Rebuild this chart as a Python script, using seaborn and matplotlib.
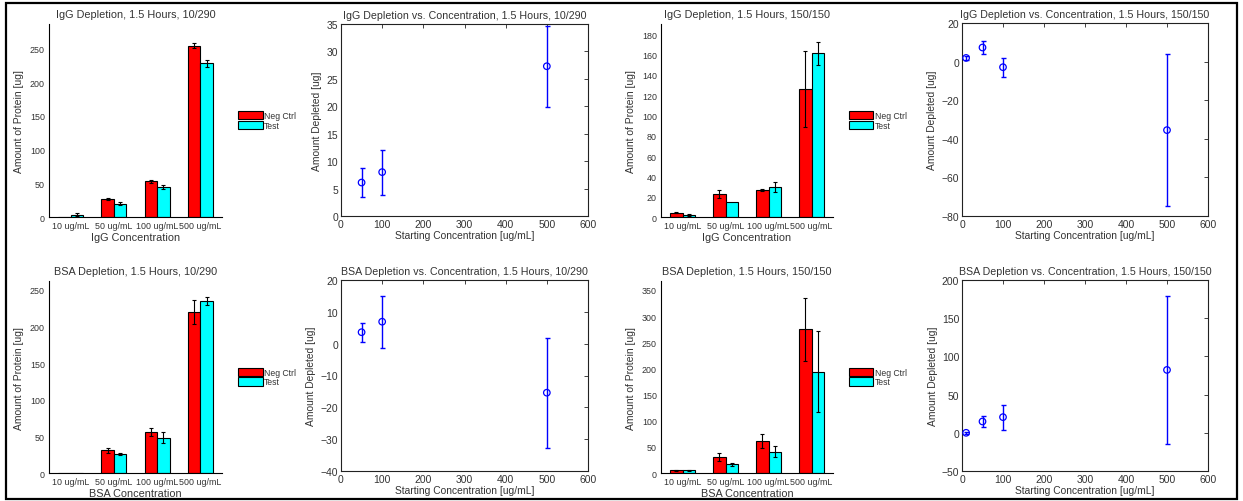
import numpy as np
import pandas as pd
import matplotlib
matplotlib.use("Agg")
import matplotlib.pyplot as plt
from matplotlib.patches import Rectangle
from matplotlib.ticker import MultipleLocator
import seaborn as sns

conc_labels = ["10 ug/mL", "50 ug/mL", "100 ug/mL", "500 ug/mL"]
groups = ["Neg Ctrl", "Test"]

# amount of protein [ug], mean and error per concentration
igg_a_neg = [0, 26.6, 52.8, 254]
igg_a_neg_err = [0, 1, 2, 4]
igg_a_test = [3.5, 19.7, 44.4, 228]
igg_a_test_err = [2, 2.5, 3, 5]

igg_b_neg = [4.3, 22.3, 26.8, 126]
igg_b_neg_err = [0.5, 4, 1, 37.6]
igg_b_test = [2.3, 14.7, 29.5, 161]
igg_b_test_err = [1, 0, 5, 11.3]

bsa_a_neg = [0, 30.9, 55.9, 220]
bsa_a_neg_err = [0, 3.4, 5, 16]
bsa_a_test = [0, 26.4, 48.2, 234.5]
bsa_a_test_err = [0, 1.5, 7.5, 5]

bsa_b_neg = [5, 30, 60.5, 275]
bsa_b_neg_err = [0.5, 7.6, 13.4, 60]
bsa_b_test = [5, 16.5, 40.7, 193.5]
bsa_b_test_err = [0.5, 3.5, 10.5, 77.7]

# amount depleted [ug] vs starting concentration
igg_a_dep_x = [50, 100, 500]
igg_a_dep = [6.1, 8.0, 27.3]
igg_a_dep_err = [2.7, 4.1, 7.4]

igg_b_dep_x = [10, 50, 100, 500]
igg_b_dep = [1.9, 7.3, -2.9, -35.5]
igg_b_dep_err = [1, 3.6, 4.9, 39.3]

bsa_a_dep_x = [50, 100, 500]
bsa_a_dep = [3.6, 6.9, -15.4]
bsa_a_dep_err = [3.0, 8.2, 17.3]

bsa_b_dep_x = [10, 50, 100, 500]
bsa_b_dep = [0, 14.8, 20.5, 82.3]
bsa_b_dep_err = [1, 7.6, 16.5, 96.5]

sns.set_style("white")
plt.rcParams["font.family"] = ["Liberation Sans", "DejaVu Sans"]
text_col = "#333333"

W, H = 1243, 502
fig = plt.figure(figsize=(W / 100, H / 100), dpi=100)


def px_axes(x0, y0, x1, y1):
    return fig.add_axes([x0 / W, 1 - y1 / H, (x1 - x0) / W, (y1 - y0) / H])


def draw_bars(ax, neg, neg_err, test, test_err, title, xlabel, ymax, ystep):
    df = pd.DataFrame({
        "conc": conc_labels * 2,
        "group": [groups[0]] * 4 + [groups[1]] * 4,
        "amount": neg + test,
        "err": neg_err + test_err,
    })
    sns.barplot(data=df, x="conc", y="amount", hue="group", order=conc_labels,
                hue_order=groups, palette=["#ff0000", "#00ffff"], saturation=1,
                width=0.58, edgecolor="black", linewidth=0.8, errorbar=None, ax=ax)
    for cont, g in zip(ax.containers, groups):
        sub = df[df["group"] == g]
        for bar, err in zip(cont, sub["err"]):
            if err <= 0:
                continue
            ax.errorbar(bar.get_x() + bar.get_width() / 2, bar.get_height(), yerr=err,
                        fmt="none", ecolor="black", elinewidth=0.8, capsize=1.5, capthick=0.8)
    ax.set_xlim(-0.5, 3.5)
    ax.set_ylim(0, ymax)
    ax.yaxis.set_major_locator(MultipleLocator(ystep))
    sns.despine(ax=ax)
    for s in ["left", "bottom"]:
        ax.spines[s].set_color("black")
        ax.spines[s].set_linewidth(0.8)
    ax.tick_params(length=0, labelsize=6.4, colors=text_col, pad=3)
    ax.set_title(title, fontsize=7.8, color=text_col, pad=5)
    ax.set_xlabel(xlabel, fontsize=7.8, color=text_col, labelpad=1)
    ax.set_ylabel("Amount of Protein [ug]", fontsize=7.5, color=text_col, labelpad=4)
    ax.legend(loc="center left", bbox_to_anchor=(1.05, 0.5), frameon=False, fontsize=6.2,
              handlelength=2.8, handleheight=1.1, handletextpad=0.2, labelspacing=0.1,
              labelcolor=text_col)


def draw_depletion(ax, x, y, err, title, ylim, ystep):
    ax.errorbar(x, y, yerr=err, fmt="none", ecolor="#0000ff", elinewidth=1,
                capsize=1.8, capthick=1)
    sns.scatterplot(x=x, y=y, ax=ax, marker="o", s=22, facecolor="none",
                    edgecolor="#0000ff", linewidth=0.9, zorder=3)
    ax.set_xlim(0, 600)
    ax.set_ylim(*ylim)
    ax.xaxis.set_major_locator(MultipleLocator(100))
    ax.yaxis.set_major_locator(MultipleLocator(ystep))
    for s in ax.spines.values():
        s.set_visible(True)
        s.set_color("#222222")
        s.set_linewidth(0.8)
    ax.tick_params(direction="in", top=True, right=True, length=3, width=0.6,
                   labelsize=7.5, colors="#222222", labelcolor=text_col, pad=2)
    ax.set_title(title, fontsize=7.7, color=text_col, pad=4)
    ax.set_xlabel("Starting Concentration [ug/mL]", fontsize=7.4, color=text_col, labelpad=1)
    ax.set_ylabel("Amount Depleted [ug]", fontsize=7.4, color=text_col, labelpad=3)


ax1 = px_axes(49, 25, 222, 218)
draw_bars(ax1, igg_a_neg, igg_a_neg_err, igg_a_test, igg_a_test_err,
          "IgG Depletion, 1.5 Hours, 10/290", "IgG Concentration", 286, 50)
ax2 = px_axes(341, 25, 588, 217)
draw_depletion(ax2, igg_a_dep_x, igg_a_dep, igg_a_dep_err,
               "IgG Depletion vs. Concentration, 1.5 Hours, 10/290", (0, 35), 5)
ax3 = px_axes(661, 25, 833, 218)
draw_bars(ax3, igg_b_neg, igg_b_neg_err, igg_b_test, igg_b_test_err,
          "IgG Depletion, 1.5 Hours, 150/150", "IgG Concentration", 190, 20)
ax4 = px_axes(962, 24, 1208, 217)
draw_depletion(ax4, igg_b_dep_x, igg_b_dep, igg_b_dep_err,
               "IgG Depletion vs. Concentration, 1.5 Hours, 150/150", (-80, 20), 20)

ax5 = px_axes(49, 282, 222, 474)
draw_bars(ax5, bsa_a_neg, bsa_a_neg_err, bsa_a_test, bsa_a_test_err,
          "BSA Depletion, 1.5 Hours, 10/290", "BSA Concentration", 262, 50)
ax6 = px_axes(341, 281, 588, 472)
draw_depletion(ax6, bsa_a_dep_x, bsa_a_dep, bsa_a_dep_err,
               "BSA Depletion vs. Concentration, 1.5 Hours, 10/290", (-40, 20), 10)
ax7 = px_axes(661, 282, 833, 474)
draw_bars(ax7, bsa_b_neg, bsa_b_neg_err, bsa_b_test, bsa_b_test_err,
          "BSA Depletion, 1.5 Hours, 150/150", "BSA Concentration", 367, 50)
ax8 = px_axes(962, 281, 1208, 472)
draw_depletion(ax8, bsa_b_dep_x, bsa_b_dep, bsa_b_dep_err,
               "BSA Depletion vs. Concentration, 1.5 Hours, 150/150", (-50, 200), 50)

# outer frame around the whole picture
fig.patches.append(Rectangle((6 / W, 1 - 500 / H), (1237 - 6) / W, (500 - 4) / H,
                             transform=fig.transFigure, fill=False,
                             edgecolor="black", linewidth=1.6))

fig.savefig("out.png", dpi=100)
